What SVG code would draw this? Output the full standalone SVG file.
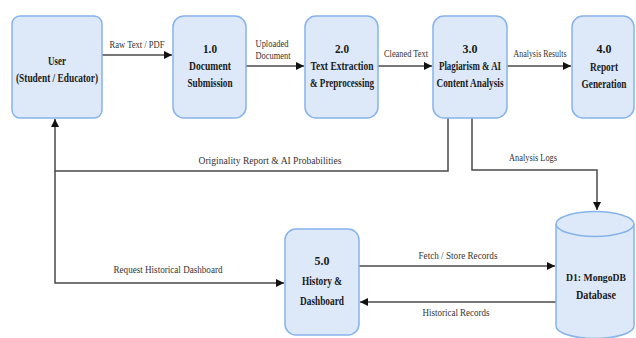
<svg xmlns="http://www.w3.org/2000/svg" width="636" height="338" viewBox="0 0 636 338">
<style>
.box{fill:#dde9f9;stroke:#86b3ec;stroke-width:1.5}
.n{font-family:"Liberation Serif","Times New Roman",serif;font-weight:bold;font-size:11.5px;fill:#1a1a1a;text-anchor:middle}
.l{font-family:"Liberation Serif","Times New Roman",serif;font-size:10.5px;fill:#333;text-anchor:middle}
.c{fill:none;stroke:#4a4a4a;stroke-width:1.5}
</style>
<defs>
<marker id="ah" viewBox="0 0 10 10" refX="10" refY="5" markerWidth="8" markerHeight="8" markerUnits="userSpaceOnUse" orient="auto">
<path d="M0 0 L10 5 L0 10 Z" fill="#111"/>
</marker>
</defs>
<rect width="636" height="338" fill="#ffffff"/>
<g id="connectors">
<path class="c" d="M102 55 H172" marker-end="url(#ah)"/>
<path class="c" d="M246 66 H304" marker-end="url(#ah)"/>
<path class="c" d="M378 66 H432" marker-end="url(#ah)"/>
<path class="c" d="M507 66 H571" marker-end="url(#ah)"/>
<path class="c" d="M448 118 V171 H55 V119" marker-end="url(#ah)"/>
<path class="c" d="M472 118 V170 H597 V210" marker-end="url(#ah)"/>
<path class="c" d="M55 171 V283 H284" marker-end="url(#ah)"/>
<path class="c" d="M359 266 H555" marker-end="url(#ah)"/>
<path class="c" d="M556 302 H360" marker-end="url(#ah)"/>
<text class="l" x="137" y="48" textLength="55" lengthAdjust="spacingAndGlyphs">Raw Text / PDF</text>
<text class="l" x="272" y="47" textLength="33" lengthAdjust="spacingAndGlyphs">Uploaded</text>
<text class="l" x="273" y="59" textLength="35" lengthAdjust="spacingAndGlyphs">Document</text>
<text class="l" x="406" y="57" textLength="44" lengthAdjust="spacingAndGlyphs">Cleaned Text</text>
<text class="l" x="540" y="57" textLength="53" lengthAdjust="spacingAndGlyphs">Analysis Results</text>
<text class="l" x="270" y="164" textLength="143" lengthAdjust="spacingAndGlyphs">Originality Report &amp; AI Probabilities</text>
<text class="l" x="533" y="161" textLength="48" lengthAdjust="spacingAndGlyphs">Analysis Logs</text>
<text class="l" x="168" y="273" textLength="109" lengthAdjust="spacingAndGlyphs">Request Historical Dashboard</text>
<text class="l" x="458" y="259" textLength="79" lengthAdjust="spacingAndGlyphs">Fetch / Store Records</text>
<text class="l" x="456" y="316" textLength="67" lengthAdjust="spacingAndGlyphs">Historical Records</text>
</g>
<g id="user">
<rect class="box" x="12" y="16" width="90" height="102" rx="8"/>
<text class="n" x="57" y="65" textLength="18" lengthAdjust="spacingAndGlyphs">User</text>
<text class="n" x="57" y="82" textLength="82" lengthAdjust="spacingAndGlyphs">(Student / Educator)</text>
</g>
<g id="p1">
<rect class="box" x="173" y="16" width="73" height="102" rx="11"/>
<text class="n" x="210" y="53" textLength="14" lengthAdjust="spacingAndGlyphs">1.0</text>
<text class="n" x="210" y="70" textLength="42" lengthAdjust="spacingAndGlyphs">Document</text>
<text class="n" x="210" y="87" textLength="45" lengthAdjust="spacingAndGlyphs">Submission</text>
</g>
<g id="p2">
<rect class="box" x="305" y="16" width="73" height="102" rx="11"/>
<text class="n" x="342" y="53" textLength="14" lengthAdjust="spacingAndGlyphs">2.0</text>
<text class="n" x="342" y="70" textLength="63" lengthAdjust="spacingAndGlyphs">Text Extraction</text>
<text class="n" x="342" y="87" textLength="64" lengthAdjust="spacingAndGlyphs">&amp; Preprocessing</text>
</g>
<g id="p3">
<rect class="box" x="433" y="16" width="74" height="102" rx="11"/>
<text class="n" x="470" y="53" textLength="15" lengthAdjust="spacingAndGlyphs">3.0</text>
<text class="n" x="470" y="70" textLength="62" lengthAdjust="spacingAndGlyphs">Plagiarism &amp; AI</text>
<text class="n" x="470" y="87" textLength="67" lengthAdjust="spacingAndGlyphs">Content Analysis</text>
</g>
<g id="p4">
<rect class="box" x="572" y="16" width="62" height="102" rx="11"/>
<text class="n" x="604" y="53" textLength="15" lengthAdjust="spacingAndGlyphs">4.0</text>
<text class="n" x="604" y="71" textLength="28" lengthAdjust="spacingAndGlyphs">Report</text>
<text class="n" x="604" y="88" textLength="45" lengthAdjust="spacingAndGlyphs">Generation</text>
</g>
<g id="p5">
<rect class="box" x="285" y="229" width="74" height="106" rx="11"/>
<text class="n" x="322" y="265" textLength="15" lengthAdjust="spacingAndGlyphs">5.0</text>
<text class="n" x="322" y="285" textLength="40" lengthAdjust="spacingAndGlyphs">History &amp;</text>
<text class="n" x="322" y="305" textLength="44" lengthAdjust="spacingAndGlyphs">Dashboard</text>
</g>
<g id="d1">
<path class="box" d="M556 224 V326 A39 12.5 0 0 0 634 326 V224"/>
<ellipse class="box" cx="595" cy="224" rx="39" ry="12.5"/>
<text class="n" x="596" y="281" style="font-size:10.5px" textLength="60" lengthAdjust="spacingAndGlyphs">D1: MongoDB</text>
<text class="n" x="596" y="299" textLength="40" lengthAdjust="spacingAndGlyphs">Database</text>
</g>
</svg>
